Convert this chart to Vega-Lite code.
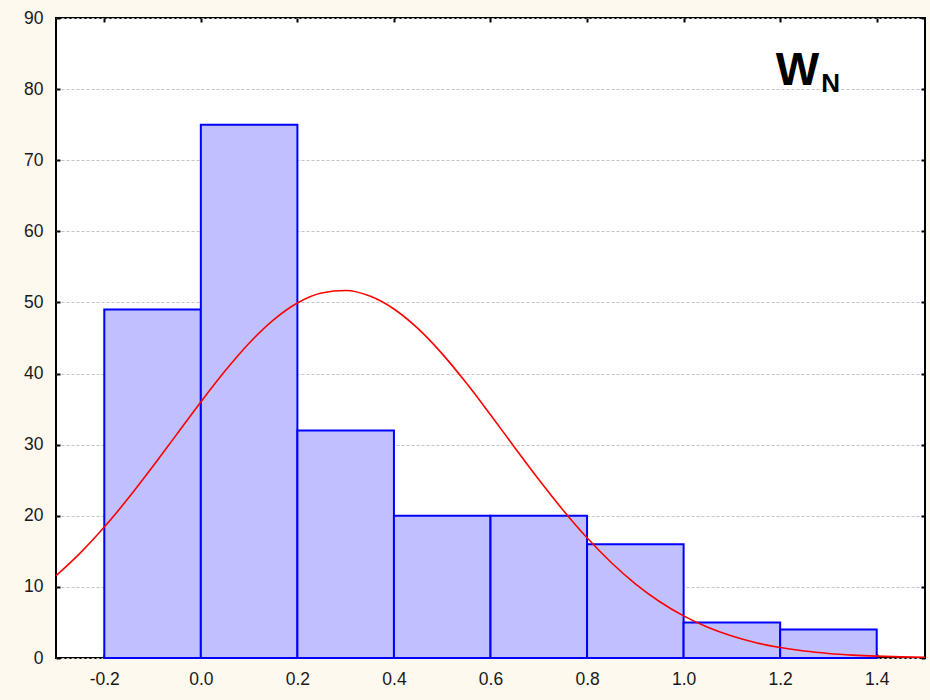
{
  "$schema": "https://vega.github.io/schema/vega-lite/v6.json",
  "width": 869,
  "height": 640,
  "autosize": {"type": "none"},
  "padding": {"left": 56, "top": 18, "right": 5, "bottom": 42},
  "background": "#fdf9ee",
  "config": {
    "view": {"fill": "white", "stroke": "black", "strokeWidth": 2},
    "axis": {
      "labelFont": "Liberation Sans",
      "labelFontSize": 17.5,
      "labelColor": "#1a1a1a",
      "domain": false,
      "tickColor": "black",
      "tickWidth": 2,
      "tickSize": -4,
      "title": null
    }
  },
  "datasets": {
    "bins": [
      {"lo": -0.2, "hi": 0.0, "count": 49},
      {"lo": 0.0, "hi": 0.2, "count": 75},
      {"lo": 0.2, "hi": 0.4, "count": 32},
      {"lo": 0.4, "hi": 0.6, "count": 20},
      {"lo": 0.6, "hi": 0.8, "count": 20},
      {"lo": 0.8, "hi": 1.0, "count": 16},
      {"lo": 1.0, "hi": 1.2, "count": 5},
      {"lo": 1.2, "hi": 1.4, "count": 4}
    ],
    "fit": [
      {"x": -0.30, "y": 11.57}, {"x": -0.25, "y": 14.75}, {"x": -0.20, "y": 18.41},
      {"x": -0.15, "y": 22.49}, {"x": -0.10, "y": 26.88}, {"x": -0.05, "y": 31.45},
      {"x": 0.00, "y": 36.01}, {"x": 0.05, "y": 40.36}, {"x": 0.10, "y": 44.27},
      {"x": 0.15, "y": 47.52}, {"x": 0.20, "y": 49.93}, {"x": 0.25, "y": 51.34},
      {"x": 0.30, "y": 51.68}, {"x": 0.35, "y": 50.90}, {"x": 0.40, "y": 49.08},
      {"x": 0.45, "y": 46.31}, {"x": 0.50, "y": 42.77}, {"x": 0.55, "y": 38.66},
      {"x": 0.60, "y": 34.20}, {"x": 0.65, "y": 29.61}, {"x": 0.70, "y": 25.10},
      {"x": 0.75, "y": 20.82}, {"x": 0.80, "y": 16.90}, {"x": 0.85, "y": 13.43},
      {"x": 0.90, "y": 10.44}, {"x": 0.95, "y": 7.95}, {"x": 1.00, "y": 5.92},
      {"x": 1.05, "y": 4.31}, {"x": 1.10, "y": 3.08}, {"x": 1.15, "y": 2.15},
      {"x": 1.20, "y": 1.47}, {"x": 1.25, "y": 0.98}, {"x": 1.30, "y": 0.64},
      {"x": 1.35, "y": 0.41}, {"x": 1.40, "y": 0.26}, {"x": 1.45, "y": 0.16},
      {"x": 1.50, "y": 0.10}
    ],
    "label": [{"main": "W", "sub": "N"}]
  },
  "resolve": {"axis": {"x": "independent", "y": "independent"}},
  "layer": [
    {
      "data": {"name": "bins"},
      "mark": {"type": "rect", "fill": "#c0c0ff", "stroke": "#0000ff", "strokeWidth": 2},
      "encoding": {
        "x": {
          "field": "lo", "type": "quantitative",
          "scale": {"domain": [-0.3, 1.5], "nice": false, "zero": false},
          "axis": {
            "orient": "bottom", "values": [-0.2, 0, 0.2, 0.4, 0.6, 0.8, 1.0, 1.2, 1.4],
            "labelExpr": "replace(format(datum.value, '.1f'), '\u2212', '-')",
            "labelPadding": 16, "grid": false
          }
        },
        "x2": {"field": "hi"},
        "y": {
          "field": "count", "type": "quantitative",
          "scale": {"domain": [0, 90], "nice": false},
          "axis": {
            "orient": "left", "values": [0, 10, 20, 30, 40, 50, 60, 70, 80, 90],
            "labelPadding": 17,
            "grid": true, "gridColor": "#c4c4c4", "gridDash": [3, 2], "gridWidth": 1
          }
        },
        "y2": {"datum": 0}
      }
    },
    {
      "data": {"name": "fit"},
      "mark": {"type": "line", "color": "#ff0000", "strokeWidth": 1.6, "interpolate": "monotone", "clip": true},
      "encoding": {
        "x": {
          "field": "x", "type": "quantitative",
          "axis": {"orient": "top", "values": [-0.2, 0, 0.2, 0.4, 0.6, 0.8, 1.0, 1.2, 1.4], "labels": false, "grid": false}
        },
        "y": {
          "field": "y", "type": "quantitative",
          "axis": {"orient": "right", "values": [0, 10, 20, 30, 40, 50, 60, 70, 80, 90], "labels": false, "grid": false}
        }
      }
    },
    {
      "data": {"name": "label"},
      "mark": {"type": "text", "font": "Liberation Sans", "fontWeight": "bold", "fontSize": 46, "align": "left", "baseline": "alphabetic", "color": "black"},
      "encoding": {
        "text": {"field": "main"},
        "x": {"datum": 1.191, "axis": null},
        "y": {"datum": 80.6, "axis": null}
      }
    },
    {
      "data": {"name": "label"},
      "mark": {"type": "text", "font": "Liberation Sans", "fontWeight": "bold", "fontSize": 26, "align": "left", "baseline": "alphabetic", "color": "black"},
      "encoding": {
        "text": {"field": "sub"},
        "x": {"datum": 1.285, "axis": null},
        "y": {"datum": 79.6, "axis": null}
      }
    }
  ]
}
